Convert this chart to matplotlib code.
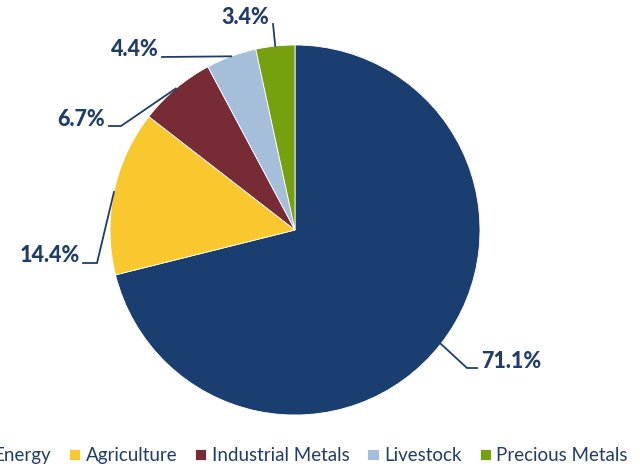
"""Pie chart of commodity index weights by sector."""

import numpy as np
import matplotlib.pyplot as plt

# Sector weights (%)
SECTORS = ["Energy", "Agriculture", "Industrial Metals", "Livestock", "Precious Metals"]
WEIGHTS = [71.1, 14.4, 6.7, 4.4, 3.4]
COLORS = ["#1a3e6f", "#f9c82e", "#772c35", "#a5bfda", "#76a00e"]
TEXT_COLOR = "#1f3d6b"

# Canvas size in pixels and pie geometry (center/radius in pixels)
W, H = 640, 466
CX, CY, R = 295, 230, 185

# Label layout in pixel space: text anchor, alignment, leader elbow points
LAYOUT = {
    "Energy": dict(text=(481, 362), ha="left", path=[(467, 368), (477, 368)]),
    "Agriculture": dict(text=(80, 256), ha="right", path=[(97, 263), (83, 263)]),
    "Industrial Metals": dict(text=(105, 119), ha="right", path=[(121, 126), (109, 126)]),
    "Livestock": dict(text=(159, 50), ha="right", path=[(162, 57)]),
    "Precious Metals": dict(text=(269, 17), ha="right", path=[(273, 24)]),
}


def px(x, y):
    """Convert pixel position to data units (pie radius = 1)."""
    return (x - CX) / R, (CY - y) / R


def plot():
    plt.rcParams["font.family"] = ["Lato", "DejaVu Sans"]
    fig = plt.figure(figsize=(W / 100, H / 100), dpi=100)
    ax = fig.add_axes([0, 0, 1, 1])

    wedges, _ = ax.pie(WEIGHTS, colors=COLORS, startangle=90, counterclock=False,
                       radius=1, center=(0, 0),
                       wedgeprops=dict(edgecolor="white", linewidth=0.6))

    for wedge, name, value in zip(wedges, SECTORS, WEIGHTS):
        mid = np.deg2rad((wedge.theta1 + wedge.theta2) / 2)
        edge = (np.cos(mid), np.sin(mid))
        lay = LAYOUT[name]
        pts = [edge] + [px(*p) for p in lay["path"]]
        xs, ys = zip(*pts)
        ax.plot(xs, ys, color=TEXT_COLOR, lw=1.3, solid_joinstyle="miter")
        tx, ty = px(*lay["text"])
        ax.text(tx, ty, f"{value:.1f}%", ha=lay["ha"], va="center",
                fontsize=15.5, fontweight=900, color=TEXT_COLOR)

    ax.set_xlim(-CX / R, (W - CX) / R)
    ax.set_ylim(-(H - CY) / R, CY / R)
    ax.axis("off")

    fig.legend(wedges, SECTORS, loc="lower right", bbox_to_anchor=(628 / W, 0.004),
               ncol=5, frameon=False, fontsize=13.5, labelcolor=TEXT_COLOR,
               handlelength=0.6, handleheight=0.6, handletextpad=0.3,
               columnspacing=0.95, borderpad=0, borderaxespad=0)

    fig.savefig("out.png", dpi=100)
    plt.close(fig)


if __name__ == "__main__":
    plot()
